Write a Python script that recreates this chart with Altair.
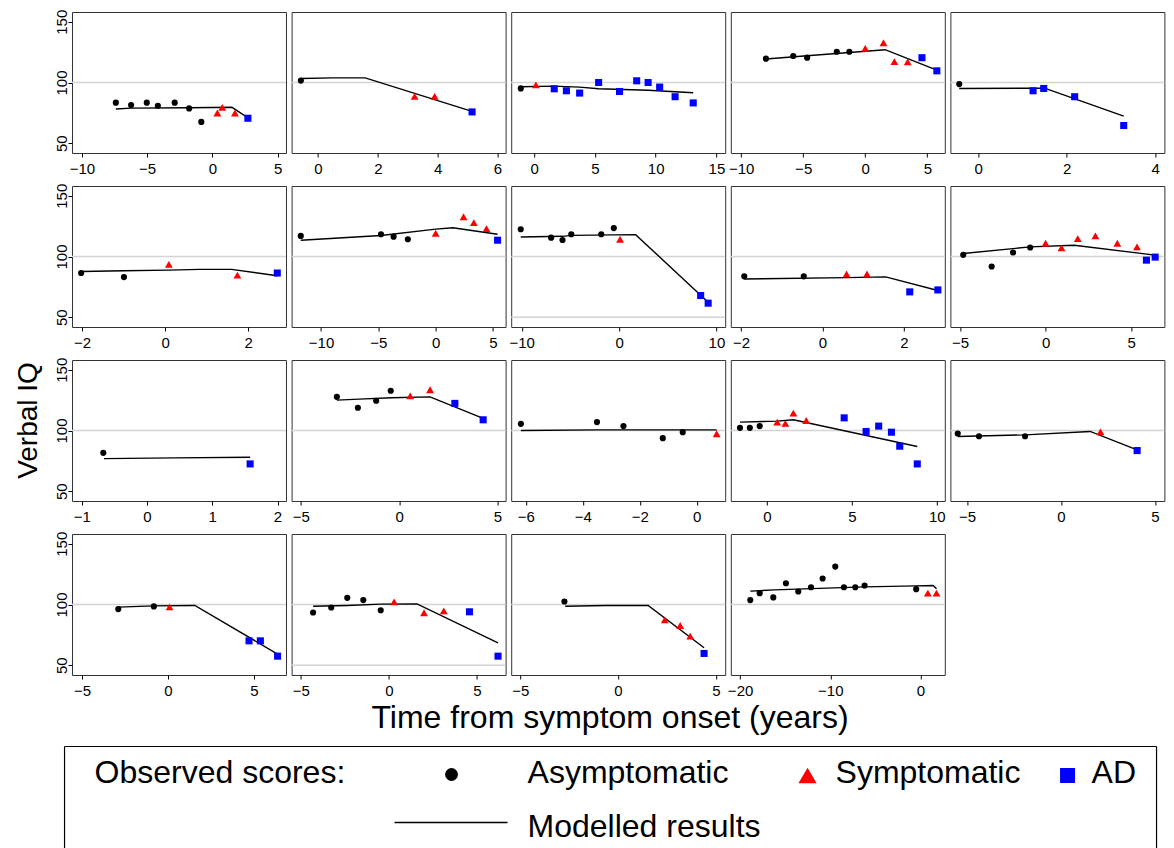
import altair as alt
import pandas as pd

FONT = "Liberation Sans"

# ---------------- values ----------------
# Each panel: observed scores by status (time, verbal IQ), modelled line, x-range and ticks
P01_ASYM = [(-7.40, 83.4), (-6.23, 81.5), (-5.03, 83.4), (-4.18, 80.9), (-2.89, 83.4), (-1.78, 78.7), (-0.85, 67.6)]
P01_SYMP = [(0.38, 74.9), (0.76, 79.6), (1.73, 74.9)]
P01_AD = [(2.72, 70.6)]
P01_MODEL = [(-7.40, 78.2), (-6.23, 78.9), (-1.78, 79.2), (1.50, 79.6), (2.72, 71.0)]
P01_XDOMAIN = [-10.76, 5.64]
P01_XTICKS = [-10, -5, 0, 5]

P02_ASYM = [(-0.57, 101.6)]
P02_SYMP = [(3.23, 88.6), (3.90, 88.6)]
P02_AD = [(5.15, 75.8)]
P02_MODEL = [(-0.57, 103.3), (0.49, 103.8), (1.58, 103.8), (5.15, 76.3)]
P02_XDOMAIN = [-0.88, 6.27]
P02_XTICKS = [0, 2, 4, 6]

P03_ASYM = [(-1.09, 95.1)]
P03_SYMP = [(0.15, 98.1)]
P03_AD = [(1.66, 94.8), (2.66, 93.2), (3.75, 91.3), (5.31, 100.0), (7.03, 92.6), (8.44, 101.4),
          (9.38, 100.0), (10.33, 96.2), (11.60, 88.3), (13.09, 83.2)]
P03_MODEL = [(-1.09, 96.5), (1.60, 97.0), (3.75, 96.2), (5.31, 94.8), (9.38, 93.6), (11.60, 92.4), (13.09, 91.6)]
P03_XDOMAIN = [-1.88, 15.72]
P03_XTICKS = [0, 5, 10, 15]

P04_ASYM = [(-8.00, 119.6), (-5.80, 121.8), (-4.68, 120.4), (-2.29, 125.3), (-1.28, 125.3)]
P04_SYMP = [(0.00, 128.1), (1.47, 132.7), (2.35, 117.2), (3.42, 116.9)]
P04_AD = [(4.57, 120.4), (5.77, 109.6)]
P04_MODEL = [(-8.00, 119.3), (-4.68, 122.0), (-1.28, 124.7), (1.60, 127.0), (5.77, 110.2)]
P04_XDOMAIN = [-10.83, 6.41]
P04_XTICKS = [-10, -5, 0, 5]

P05_ASYM = [(-0.43, 98.7)]
P05_SYMP = []
P05_AD = [(1.24, 93.2), (1.48, 95.1), (2.18, 88.3), (3.29, 64.6)]
P05_MODEL = [(-0.43, 95.1), (1.50, 95.3), (3.29, 72.3)]
P05_XDOMAIN = [-0.63, 4.21]
P05_XTICKS = [0, 2, 4]

P06_ASYM = [(-2.02, 86.4), (-0.99, 83.1)]
P06_SYMP = [(0.09, 93.5), (1.74, 84.7)]
P06_AD = [(2.70, 86.4)]
P06_MODEL = [(-2.02, 87.7), (-0.99, 88.3), (0.09, 88.8), (0.83, 89.4), (1.60, 89.4), (2.70, 84.2)]
P06_XDOMAIN = [-2.24, 2.91]
P06_XTICKS = [-2, 0, 2]

P07_ASYM = [(-11.77, 116.9), (-4.77, 118.3), (-3.67, 116.3), (-2.43, 114.2)]
P07_SYMP = [(0.00, 119.1), (2.43, 132.7), (3.33, 127.8), (4.43, 122.9)]
P07_AD = [(5.40, 113.4)]
P07_MODEL = [(-11.77, 113.4), (-4.77, 117.3), (0.00, 122.5), (1.50, 123.7), (5.40, 118.3)]
P07_XDOMAIN = [-12.57, 6.10]
P07_XTICKS = [-10, -5, 0, 5]

P08_ASYM = [(-10.10, 122.4), (-6.98, 115.5), (-5.81, 113.6), (-4.91, 118.3), (-1.83, 118.3), (-0.54, 123.4)]
P08_SYMP = [(0.10, 114.2)]
P08_AD = [(8.38, 67.9), (9.15, 61.6)]
P08_MODEL = [(-10.10, 116.1), (-5.81, 116.6), (-4.91, 117.4), (1.70, 118.0), (9.15, 62.4)]
P08_XDOMAIN = [-11.08, 10.90]
P08_XTICKS = [-10, 0, 10]

P09_ASYM = [(-1.92, 83.7), (-0.46, 83.7)]
P09_SYMP = [(0.59, 85.6), (1.09, 85.6)]
P09_AD = [(2.14, 70.9), (2.83, 72.5)]
P09_MODEL = [(-1.92, 81.5), (0.59, 82.6), (1.55, 83.2), (2.83, 72.0)]
P09_XDOMAIN = [-2.25, 3.00]
P09_XTICKS = [-2, 0, 2]

P10_ASYM = [(-4.81, 101.4), (-3.15, 91.8), (-1.90, 103.3), (-0.90, 107.4)]
P10_SYMP = [(0.00, 110.9), (0.93, 107.1), (1.88, 114.7), (2.91, 116.9), (4.19, 110.9), (5.34, 107.9)]
P10_AD = [(5.89, 97.0), (6.40, 99.5)]
P10_MODEL = [(-4.81, 102.5), (-0.90, 107.9), (1.67, 109.3), (6.40, 101.1)]
P10_XDOMAIN = [-5.56, 6.94]
P10_XTICKS = [-5, 0, 5]

P11_ASYM = [(-0.67, 81.6)]
P11_SYMP = []
P11_AD = [(1.58, 72.5)]
P11_MODEL = [(-0.66, 76.9), (0.42, 77.5), (1.58, 78.0)]
P11_XDOMAIN = [-1.15, 2.13]
P11_XTICKS = [-1, 0, 1, 2]

P12_ASYM = [(-3.17, 127.7), (-2.10, 118.7), (-1.17, 124.5), (-0.43, 132.7)]
P12_SYMP = [(0.56, 128.5), (1.57, 133.5)]
P12_AD = [(2.83, 122.3), (4.27, 108.8)]
P12_MODEL = [(-3.17, 125.0), (-2.04, 125.8), (-0.39, 126.9), (1.57, 127.7), (4.27, 109.9)]
P12_XDOMAIN = [-5.47, 5.41]
P12_XTICKS = [-5, 0, 5]

P13_ASYM = [(-6.17, 105.5), (-3.50, 106.9), (-2.57, 103.6), (-1.19, 93.7), (-0.49, 98.6)]
P13_SYMP = [(0.70, 97.3)]
P13_AD = []
P13_MODEL = [(-6.17, 100.0), (-3.50, 100.5), (0.70, 100.5)]
P13_XDOMAIN = [-6.51, 1.00]
P13_XTICKS = [-6, -4, -2, 0]

P14_ASYM = [(-1.58, 102.2), (-1.00, 102.2), (-0.42, 103.6)]
P14_SYMP = [(0.61, 106.9), (1.09, 105.8), (1.56, 114.3), (2.32, 108.2)]
P14_AD = [(4.55, 110.4), (5.84, 99.2), (6.58, 103.6), (7.33, 98.6), (7.82, 87.1), (8.85, 72.5)]
P14_MODEL = [(-1.58, 106.9), (0.61, 107.7), (1.56, 108.8), (8.85, 86.8)]
P14_XDOMAIN = [-2.12, 10.47]
P14_XTICKS = [0, 5, 10]

P15_ASYM = [(-5.49, 97.5), (-4.36, 95.3), (-1.91, 95.3)]
P15_SYMP = [(2.10, 98.9)]
P15_AD = [(4.05, 83.5)]
P15_MODEL = [(-5.49, 95.1), (-1.91, 96.4), (1.55, 99.2), (4.05, 84.0)]
P15_XDOMAIN = [-5.88, 5.50]
P15_XTICKS = [-5, 0, 5]

P16_ASYM = [(-2.89, 96.2), (-0.82, 98.4)]
P16_SYMP = [(0.09, 98.1)]
P16_AD = [(4.71, 70.1), (5.37, 70.1), (6.37, 57.5)]
P16_MODEL = [(-2.89, 97.8), (-0.82, 98.9), (1.56, 99.2), (6.37, 59.2)]
P16_XDOMAIN = [-5.58, 6.86]
P16_XTICKS = [-5, 0, 5]

P17_ASYM = [(-4.30, 93.4), (-3.27, 97.5), (-2.36, 105.5), (-1.45, 103.6), (-0.46, 95.3)]
P17_SYMP = [(0.30, 102.2), (2.00, 93.2), (3.12, 94.8)]
P17_AD = [(4.58, 94.0), (6.20, 57.5)]
P17_MODEL = [(-4.30, 98.6), (-2.36, 99.2), (-0.46, 100.3), (1.60, 100.5), (6.20, 68.5)]
P17_XDOMAIN = [-5.52, 6.63]
P17_XTICKS = [-5, 0, 5]

P18_ASYM = [(-2.74, 102.5)]
P18_SYMP = [(2.39, 87.4), (3.18, 82.7), (3.69, 74.0)]
P18_AD = [(4.40, 59.7)]
P18_MODEL = [(-2.70, 98.6), (-0.61, 99.2), (1.54, 99.2), (4.40, 64.4)]
P18_XDOMAIN = [-5.46, 5.48]
P18_XTICKS = [-5, 0, 5]

P19_ASYM = [(-18.87, 103.6), (-17.83, 109.3), (-16.32, 105.8), (-14.92, 117.5), (-13.55, 110.7),
            (-12.14, 114.2), (-10.85, 121.4), (-9.45, 131.2), (-8.49, 114.2), (-7.23, 114.2),
            (-6.20, 115.6), (-0.48, 112.6)]
P19_SYMP = [(0.81, 109.3), (1.77, 109.3)]
P19_AD = []
P19_MODEL = [(-18.87, 111.0), (-16.20, 112.0), (-6.20, 114.5), (-0.48, 115.3), (1.40, 115.6), (1.77, 112.9)]
P19_XDOMAIN = [-21.03, 2.69]
P19_XTICKS = [-20, -10, 0]

REF_DEFAULT = [100]
REF_WITH_50 = [100, 50]

Y_DOMAIN = [42, 158]
Y_TICKS = [50, 100, 150]

STATUS_LABELS = ["Asymptomatic", "Symptomatic", "AD"]
LEGEND_TITLE = "Observed scores:"
LINE_LABEL = "Modelled results"
X_TITLE = "Time from symptom onset (years)"
Y_TITLE = "Verbal IQ"

PANELS = [
    (P01_ASYM, P01_SYMP, P01_AD, P01_MODEL, P01_XDOMAIN, P01_XTICKS, REF_DEFAULT),
    (P02_ASYM, P02_SYMP, P02_AD, P02_MODEL, P02_XDOMAIN, P02_XTICKS, REF_DEFAULT),
    (P03_ASYM, P03_SYMP, P03_AD, P03_MODEL, P03_XDOMAIN, P03_XTICKS, REF_DEFAULT),
    (P04_ASYM, P04_SYMP, P04_AD, P04_MODEL, P04_XDOMAIN, P04_XTICKS, REF_DEFAULT),
    (P05_ASYM, P05_SYMP, P05_AD, P05_MODEL, P05_XDOMAIN, P05_XTICKS, REF_DEFAULT),
    (P06_ASYM, P06_SYMP, P06_AD, P06_MODEL, P06_XDOMAIN, P06_XTICKS, REF_DEFAULT),
    (P07_ASYM, P07_SYMP, P07_AD, P07_MODEL, P07_XDOMAIN, P07_XTICKS, REF_DEFAULT),
    (P08_ASYM, P08_SYMP, P08_AD, P08_MODEL, P08_XDOMAIN, P08_XTICKS, REF_WITH_50),
    (P09_ASYM, P09_SYMP, P09_AD, P09_MODEL, P09_XDOMAIN, P09_XTICKS, REF_DEFAULT),
    (P10_ASYM, P10_SYMP, P10_AD, P10_MODEL, P10_XDOMAIN, P10_XTICKS, REF_DEFAULT),
    (P11_ASYM, P11_SYMP, P11_AD, P11_MODEL, P11_XDOMAIN, P11_XTICKS, REF_DEFAULT),
    (P12_ASYM, P12_SYMP, P12_AD, P12_MODEL, P12_XDOMAIN, P12_XTICKS, REF_DEFAULT),
    (P13_ASYM, P13_SYMP, P13_AD, P13_MODEL, P13_XDOMAIN, P13_XTICKS, REF_DEFAULT),
    (P14_ASYM, P14_SYMP, P14_AD, P14_MODEL, P14_XDOMAIN, P14_XTICKS, REF_DEFAULT),
    (P15_ASYM, P15_SYMP, P15_AD, P15_MODEL, P15_XDOMAIN, P15_XTICKS, REF_DEFAULT),
    (P16_ASYM, P16_SYMP, P16_AD, P16_MODEL, P16_XDOMAIN, P16_XTICKS, REF_DEFAULT),
    (P17_ASYM, P17_SYMP, P17_AD, P17_MODEL, P17_XDOMAIN, P17_XTICKS, REF_WITH_50),
    (P18_ASYM, P18_SYMP, P18_AD, P18_MODEL, P18_XDOMAIN, P18_XTICKS, REF_DEFAULT),
    (P19_ASYM, P19_SYMP, P19_AD, P19_MODEL, P19_XDOMAIN, P19_XTICKS, REF_DEFAULT),
]

# ---------------- styling / layout ----------------
PANEL_W, PANEL_H = 214, 141
COL_GAP, ROW_GAP = 5.6, 33
FRAME = "#333333"
REF_GRAY = "#d4d4d4"
BIG_FONT = 32
STYLES = [  # (shape, color, size) for asymptomatic, symptomatic, AD
    ("circle", "black", 38),
    ("triangle-up", "#ff0000", 62),
    ("square", "#0000ff", 50),
]
Y_TITLE_PANEL = 10
X_TITLE_PANEL = 17
LEGEND_PANEL = 18
# page position of the top-left plot area corner, used to place the legend block
GRID_LEFT, GRID_TOP = 72.46, 12.5


def panel_origin(idx):
    col, row = idx % 5, idx // 5
    return (GRID_LEFT + col * (PANEL_W + COL_GAP), GRID_TOP + row * (PANEL_H + ROW_GAP))


def make_legend(idx):
    """Legend block in page-pixel units, laid under the grid through its own linear scales."""
    ox, oy = panel_origin(idx)
    LX = alt.Scale(domain=[ox, ox + PANEL_W], nice=False, zero=False)
    LY = alt.Scale(domain=[oy + PANEL_H, oy], nice=False, zero=False)
    box_l, box_r, box_t, box_b = 65, 1157, 747, 862
    box = pd.DataFrame({
        "x": [box_l, box_l, box_r], "x2": [box_l, box_r, box_r],
        "y": [box_t, box_t, box_t], "y2": [box_b, box_t, box_b],
    })
    key_line = pd.DataFrame({"x": [395], "x2": [508], "y": [823], "y2": [823]})
    texts = pd.DataFrame({
        "label": [LEGEND_TITLE] + STATUS_LABELS + [LINE_LABEL],
        "x": [95, 528, 836, 1092, 528],
        "y": [773, 773, 773, 773, 827],
    })
    key_pts = [(452, 775), (808, 776), (1068, 776)]
    key_sizes = [165, 330, 225]

    lx = alt.X("x:Q", scale=LX, axis=None)
    ly = alt.Y("y:Q", scale=LY, axis=None)
    layers = [
        alt.Chart(box).mark_rule(color="black", strokeWidth=1.2).encode(x=lx, x2="x2:Q", y=ly, y2="y2:Q"),
        alt.Chart(key_line).mark_rule(color="black", strokeWidth=1.6).encode(x=lx, x2="x2:Q", y=ly, y2="y2:Q"),
        alt.Chart(texts).mark_text(align="left", baseline="middle", font=FONT, fontSize=BIG_FONT,
                                   color="black").encode(x=lx, y=ly, text="label:N"),
    ]
    for (kx, ky), (shape, color, _), ksize in zip(key_pts, STYLES, key_sizes):
        layers.append(
            alt.Chart(pd.DataFrame({"x": [kx], "y": [ky]})).mark_point(
                shape=shape, filled=True, color=color, size=ksize, opacity=1, strokeWidth=0
            ).encode(x=lx, y=ly)
        )
    return alt.layer(*layers)


def make_panel(idx, asym, symp, ad, model, xdom, xticks, refs):
    col = idx % 5
    xs = alt.Scale(domain=xdom, nice=False, zero=False)
    ys = alt.Scale(domain=Y_DOMAIN, nice=False, zero=False)

    if idx == X_TITLE_PANEL:
        tx = 610 - panel_origin(idx)[0]
        xaxis = alt.Axis(values=xticks, title=X_TITLE, titleFont=FONT, titleFontSize=BIG_FONT,
                         titleFontWeight="normal", titleColor="black", titleX=tx, titleY=27,
                         titleAlign="center", titleBaseline="top")
    else:
        xaxis = alt.Axis(values=xticks, title=None)

    if col == 0:
        ykw = dict(values=Y_TICKS, labelAngle=270, labelAlign="center",
                   labelBaseline="alphabetic", labelPadding=2)
        if idx == Y_TITLE_PANEL:
            yaxis = alt.Axis(title=Y_TITLE, titleFont=FONT, titleFontSize=28,
                             titleFontWeight="normal", titleColor="black", titleAngle=270,
                             titleX=-30, titleY=60, titleAlign="center",
                             titleBaseline="bottom", **ykw)
        else:
            yaxis = alt.Axis(title=None, **ykw)
    else:
        yaxis = None

    X = alt.X("t:Q", scale=xs, axis=xaxis)
    Y = alt.Y("v:Q", scale=ys, axis=yaxis)

    layers = [
        alt.Chart(pd.DataFrame({"v": refs})).mark_rule(color=REF_GRAY, strokeWidth=1.6).encode(y=Y),
        alt.Chart(pd.DataFrame(model, columns=["t", "v"])).mark_line(
            color="black", strokeWidth=1.4).encode(x=X, y=Y),
    ]
    for pts, (shape, color, size) in zip([asym, symp, ad], STYLES):
        if pts:
            layers.append(
                alt.Chart(pd.DataFrame(pts, columns=["t", "v"])).mark_point(
                    shape=shape, filled=True, color=color, size=size, opacity=1, strokeWidth=0
                ).encode(x=X, y=Y)
            )
    body = alt.layer(*layers)
    if idx == LEGEND_PANEL:
        body = alt.layer(body, make_legend(idx)).resolve_scale(x="independent", y="independent")
    return body.properties(width=PANEL_W, height=PANEL_H)


panels = [make_panel(i, *p) for i, p in enumerate(PANELS)]
chart = alt.concat(*panels, columns=5, spacing={"row": ROW_GAP, "column": COL_GAP},
                   bounds="flush").resolve_scale(
    x="independent", y="independent"
).configure(
    padding={"left": 5, "top": 0, "right": 0, "bottom": 0},
    font=FONT,
).configure_view(
    stroke=FRAME, strokeWidth=1
).configure_axis(
    domain=False, grid=False, tickColor="black", tickSize=4, labelColor="black",
    labelFont=FONT, labelFontSize=15, labelPadding=4, labelFlush=False, labelOverlap=False,
)

chart.save("out.html", embed_options={"renderer": "svg", "actions": False})
